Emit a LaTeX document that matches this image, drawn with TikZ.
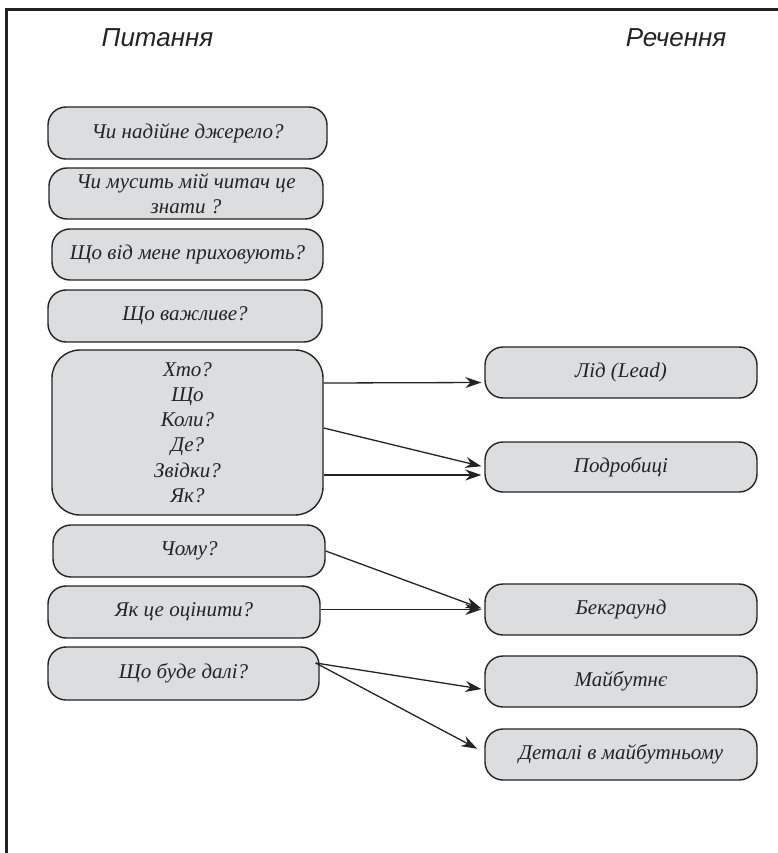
\documentclass[tikz,border=0pt]{standalone}
\usepackage{fontspec}
\setmainfont{Liberation Serif}
\newfontfamily\hdrfont{Liberation Sans}
\usetikzlibrary{arrows.meta,calc}
\definecolor{boxfill}{RGB}{220,221,222}
\definecolor{ink}{RGB}{35,35,35}
\tikzset{
  qbox/.style={draw=ink, line width=1.4pt, fill=boxfill, rounded corners=18pt,
    inner sep=0pt, align=center, text=ink, font=\itshape\fontsize{21}{25.2}\selectfont},
  hdr/.style={anchor=base, font=\hdrfont\itshape\fontsize{26}{30}\selectfont, text=ink},
  conn/.style={draw=ink, line width=1.3pt, -{Stealth[length=16pt,width=11pt]}, shorten >=3pt},
  frameline/.style={draw=ink, line width=3pt}
}
\begin{document}
\begin{tikzpicture}[x=1pt,y=-1pt]
\useasboundingbox (0,0) rectangle (778,853);
% frame
\coordinate (fbl) at (6.7,853);
\coordinate (ftl) at (6.7,10);
\coordinate (ftr) at (778,10);
\draw[frameline] (fbl) -- (ftl) -- (ftr);
% headers
\node[hdr] (h1) at (157.5,47) {Питання};
\node[hdr] (h2) at (676,47) {Речення};
% question boxes
\node[qbox, minimum width=279pt, minimum height=52pt] (q1) at (187.5,133) {Чи надійне джерело?};
\node[qbox, minimum width=274pt, minimum height=51pt] (q2) at (186,193.5) {Чи мусить мій читач це\\знати ?};
\node[qbox, minimum width=271pt, minimum height=51pt] (q3) at (187.5,254.5) {Що від мене приховують?};
\node[qbox, minimum width=274pt, minimum height=52pt] (q4) at (185,316) {Що важливе?};
\node[qbox, rounded corners=28pt, minimum width=271pt, minimum height=165pt] (q5) at (187.5,432.5)
  {Хто?\\Що\\Коли?\\Де?\\Звідки?\\Як?};
\node[qbox, minimum width=272pt, minimum height=52pt] (q6) at (189,551) {Чому?};
\node[qbox, minimum width=272pt, minimum height=52pt] (q7) at (184,612) {Як це оцінити?};
\node[qbox, minimum width=271pt, minimum height=53pt] (q8) at (183.5,673.5) {Що буде далі?};
% answer boxes
\node[qbox, minimum width=272pt, minimum height=51pt] (a1) at (621,372.5) {Лід (Lead)};
\node[qbox, minimum width=272pt, minimum height=50pt] (a2) at (621,467) {Подробиці};
\node[qbox, minimum width=272pt, minimum height=51pt] (a3) at (621,609.5) {Бекграунд};
\node[qbox, minimum width=272pt, minimum height=51pt] (a4) at (621,681.5) {Майбутнє};
\node[qbox, minimum width=272pt, minimum height=51pt] (a5) at (621,754.5) {Деталі в майбутньому};
% connectors
\draw[conn] ($(q5.east)+(0,-49.5)$) -- ($(a1.west)+(0,10)$);
\draw[conn] ($(q5.east)+(0,-4.5)$) -- (a2.west);
\draw[conn] ($(q5.east)+(0,42.5)$) -- ($(a2.west)+(0,8)$);
\draw[conn] (q6.east) -- (a3.west);
\draw[conn] (q7.east |- a3.west) -- (a3.west);
\coordinate (q8out) at ($(q8.east)+(-4,-10.5)$);
\draw[conn] (q8out) -- ($(a4.west)+(0,8)$);
\draw[conn, shorten >=8pt] (q8out) -- ($(a5.west)+(0,-2)$);
\end{tikzpicture}
\end{document}
